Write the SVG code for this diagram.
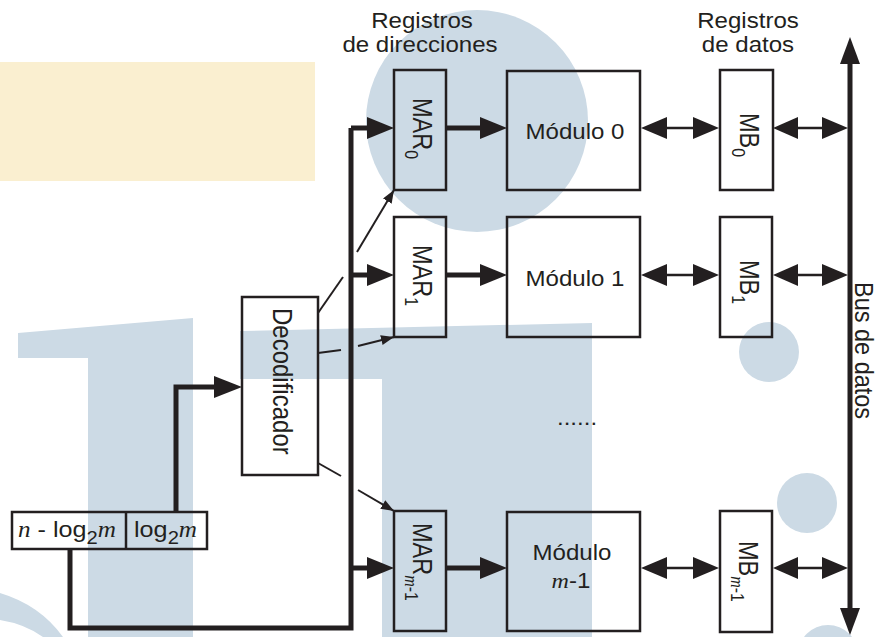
<svg xmlns="http://www.w3.org/2000/svg" width="879" height="637" viewBox="0 0 879 637">
<style>
.box{fill:none;stroke:#231F20;stroke-width:2.5}
.thick{fill:none;stroke:#231F20;stroke-width:5}
.thin{fill:none;stroke:#231F20;stroke-width:2}
.dbl{fill:none;stroke:#231F20;stroke-width:2.5}
.head{fill:#231F20}
.wm{fill:#CCDAE5}
text{font-family:"Liberation Sans",Arial,sans-serif;fill:#231F20}
.h{font-size:21.5px;text-anchor:middle}
.v{font-size:23.5px}
.sub{font-size:16px}
.sub2{font-size:18px}
.it{font-family:"Liberation Serif","Times New Roman",serif;font-style:italic}
</style>
<defs>
<marker id="ah" markerUnits="userSpaceOnUse" markerWidth="13" markerHeight="10" refX="13" refY="5" orient="auto">
<path d="M0,0 L13,5 L0,10 z" fill="#231F20"/>
</marker>
</defs>
<rect width="879" height="637" fill="#FFFFFF"/>
<g id="watermark">
<rect x="0" y="62" width="315" height="119" fill="#FAEFD0"/>
<circle class="wm" cx="477" cy="121" r="111"/>
<polygon class="wm" points="18,333 193,318 193,637 88,637 88,358 18,358"/>
<polygon class="wm" points="240,331 592,323 592,637 382,637 382,379 240,379"/>
<circle class="wm" cx="769" cy="352" r="30"/>
<circle class="wm" cx="807" cy="503" r="30"/>
<circle class="wm" cx="828" cy="655" r="30"/>
<path class="wm" d="M0,593 Q40,605 63,637 L43,637 Q25,624 0,620 Z"/>
</g>
<g id="labels">
<text class="h" transform="translate(422,28) scale(1.12,1)">Registros</text>
<text class="h" transform="translate(420,52) scale(1.12,1)">de direcciones</text>
<text class="h" transform="translate(748,28) scale(1.12,1)">Registros</text>
<text class="h" transform="translate(748,52) scale(1.12,1)">de datos</text>
<text class="h" transform="translate(557,425) scale(1.12,1)" style="text-anchor:start">......</text>
</g>
<g id="connectors">
<path class="thick" d="M351,128 V628 H70 V549"/>
<path class="thick" d="M351,128 H370"/>
<polygon class="head" points="367,117 394,128 367,139"/>
<path class="thick" d="M351,275 H370"/>
<polygon class="head" points="367,264 394,275 367,286"/>
<path class="thick" d="M351,568 H370"/>
<polygon class="head" points="367,557 394,568 367,579"/>
<path class="thick" d="M176,512 V387 H216"/>
<polygon class="head" points="214,376 242,387 214,398"/>
<path class="thick" d="M446,128 H482"/>
<polygon class="head" points="480,117 507,128 480,139"/>
<path class="thick" d="M446,275 H482"/>
<polygon class="head" points="480,264 507,275 480,286"/>
<path class="thick" d="M446,568 H482"/>
<polygon class="head" points="480,557 507,568 480,579"/>
<path class="thin" d="M318,313 L343,277"/>
<path class="thin" d="M357,252 L394,190" marker-end="url(#ah)"/>
<path class="thin" d="M318,353 L341,350"/>
<path class="thin" d="M358,346 L394,337" marker-end="url(#ah)"/>
<path class="thin" d="M318,463 L341,476"/>
<path class="thin" d="M358,490 L394,511" marker-end="url(#ah)"/>
<g id="dbl-arrows">
<path class="dbl" d="M665,128 H695 M796,128 H824"/>
<polygon class="head" points="641,128 667,117 667,139"/>
<polygon class="head" points="719,128 693,117 693,139"/>
<polygon class="head" points="773,128 798,117 798,139"/>
<polygon class="head" points="848,128 822,117 822,139"/>
<path class="dbl" d="M665,275 H695 M796,275 H824"/>
<polygon class="head" points="641,275 667,264 667,286"/>
<polygon class="head" points="719,275 693,264 693,286"/>
<polygon class="head" points="773,275 798,264 798,286"/>
<polygon class="head" points="848,275 822,264 822,286"/>
<path class="dbl" d="M665,568 H695 M796,568 H824"/>
<polygon class="head" points="641,568 667,557 667,579"/>
<polygon class="head" points="719,568 693,557 693,579"/>
<polygon class="head" points="773,568 798,557 798,579"/>
<polygon class="head" points="848,568 822,557 822,579"/>
</g>
<g id="bus">
<path class="thick" d="M850,62 V610"/>
<polygon class="head" points="850,37 840,64 860,64"/>
<polygon class="head" points="840,608 860,608 850,635"/>
</g>
</g>
<g id="bus-label">
<text class="v" transform="translate(855,282) rotate(90) scale(1,1.1)">Bus de datos</text>
</g>
<g id="addr-reg">
<rect class="box" x="12" y="512" width="195" height="37"/>
<line class="box" x1="126" y1="512" x2="126" y2="549"/>
<text transform="translate(18,537) scale(1.12,1)" style="font-size:22.5px"><tspan class="it">n</tspan> - log<tspan class="sub2" dy="7">2</tspan><tspan class="it" dy="-7">m</tspan></text>
<text transform="translate(134,537) scale(1.12,1)" style="font-size:22.5px">log<tspan class="sub2" dy="7">2</tspan><tspan class="it" dy="-7">m</tspan></text>
</g>
<g id="decoder">
<rect class="box" x="242" y="297" width="76" height="178"/>
<text class="v" transform="translate(273,308) rotate(90) scale(1,1.15)" style="font-size:24px">Decodificador</text>
</g>
<g id="mar0">
<rect class="box" x="394" y="70" width="52" height="120"/>
<text class="v" transform="translate(413,98) rotate(90) scale(1,1.15)">MAR<tspan class="sub" dy="7">0</tspan></text>
</g>
<g id="mar1">
<rect class="box" x="394" y="217" width="52" height="120"/>
<text class="v" transform="translate(413,245) rotate(90) scale(1,1.15)">MAR<tspan class="sub" dy="7">1</tspan></text>
</g>
<g id="marm1">
<rect class="box" x="394" y="511" width="52" height="120"/>
<text class="v" transform="translate(413,523) rotate(90) scale(1,1.15)">MAR<tspan class="sub it" dy="7">m</tspan><tspan class="sub">-1</tspan></text>
</g>
<g id="mod0">
<rect class="box" x="507" y="71" width="133" height="119"/>
<text class="h" transform="translate(575,139) scale(1.12,1)">Módulo 0</text>
</g>
<g id="mod1">
<rect class="box" x="507" y="217" width="133" height="120"/>
<text class="h" transform="translate(575,286) scale(1.12,1)">Módulo 1</text>
</g>
<g id="modm1">
<rect class="box" x="507" y="512" width="133" height="119"/>
<text class="h" transform="translate(572,560) scale(1.12,1)">Módulo</text>
<text class="h" transform="translate(571,588) scale(1.12,1)"><tspan class="it">m</tspan>-1</text>
</g>
<g id="mb0">
<rect class="box" x="720" y="70" width="53" height="120"/>
<text class="v" transform="translate(740,113) rotate(90) scale(1,1.15)">MB<tspan class="sub" dy="7">0</tspan></text>
</g>
<g id="mb1">
<rect class="box" x="720" y="217" width="52" height="120"/>
<text class="v" transform="translate(740,260) rotate(90) scale(1,1.15)">MB<tspan class="sub" dy="7">1</tspan></text>
</g>
<g id="mbm1">
<rect class="box" x="720" y="511" width="52" height="121"/>
<text class="v" transform="translate(739,541) rotate(90) scale(1,1.15)">MB<tspan class="sub it" dy="7">m</tspan><tspan class="sub">-1</tspan></text>
</g>
</svg>
